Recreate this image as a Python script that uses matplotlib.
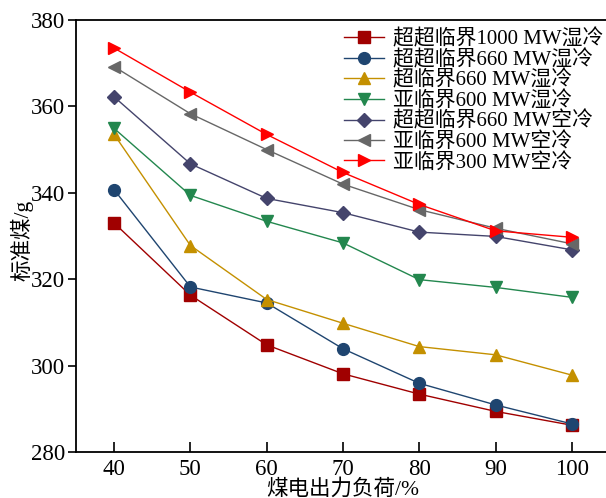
import matplotlib
matplotlib.use('Agg')
import matplotlib.pyplot as plt

plt.rcParams['font.family'] = ['Liberation Serif', 'Noto Sans CJK SC']
plt.rcParams['mathtext.fontset'] = 'stix'

# 负荷 (%)
load = [40, 50, 60, 70, 80, 90, 100]

# 各机组标准煤耗 (g)
usc1000_wet = [333.0, 316.3, 304.8, 298.1, 293.4, 289.4, 286.2]
usc660_wet = [340.7, 318.2, 314.5, 303.9, 295.9, 290.9, 286.5]
sc660_wet = [353.5, 327.8, 315.3, 309.8, 304.4, 302.5, 297.8]
sub600_wet = [354.9, 339.4, 333.4, 328.4, 319.9, 318.1, 315.8]
usc660_air = [362.2, 346.7, 338.7, 335.4, 330.9, 329.9, 326.8]
sub600_air = [369.2, 358.3, 350.0, 342.0, 336.1, 331.8, 328.2]
sub300_air = [373.5, 363.3, 353.5, 344.7, 337.3, 331.2, 329.7]

series = [
    ('超超临界1000 MW湿冷', usc1000_wet, '#A00000', 's'),
    ('超超临界660 MW湿冷', usc660_wet, '#1F4570', 'o'),
    ('超临界660 MW湿冷', sc660_wet, '#C49000', '^'),
    ('亚临界600 MW湿冷', sub600_wet, '#23874E', 'v'),
    ('超超临界660 MW空冷', usc660_air, '#44446C', 'D'),
    ('亚临界600 MW空冷', sub600_air, '#676767', '<'),
    ('亚临界300 MW空冷', sub300_air, '#FF0000', '>'),
]

fig = plt.figure(figsize=(6.06, 4.98), dpi=100)
ax = fig.add_axes([76 / 606, 1 - 452 / 498, 534 / 606, 432 / 498])

for label, vals, color, mk in series:
    ms = 7 if mk == 'D' else 8.5
    ax.plot(load, vals, color=color, marker=mk, markersize=ms, linewidth=1.0,
            label=label)

ax.set_xlim(35, 105)
ax.set_ylim(280, 380)
ax.set_xticks(load)
ax.set_yticks([280, 300, 320, 340, 360, 380])
ax.tick_params(axis='x', direction='in', length=7, width=1.2, labelsize=16.5, pad=5)
ax.tick_params(axis='y', direction='out', length=6, width=1.2, labelsize=16.5, pad=2)
for s in ax.spines.values():
    s.set_linewidth(1.3)

ax.set_xlabel('煤电出力负荷/%', fontsize=15.5, labelpad=-1)
ax.set_ylabel('标准煤/g', fontsize=15.5)
ax.yaxis.set_label_coords(-0.08, 0.49)

ax.legend(loc='upper right', bbox_to_anchor=(603 / 606, 1 - 29 / 498),
          bbox_transform=fig.transFigure, frameon=False, fontsize=15,
          labelspacing=0.02, handlelength=1.9, handletextpad=0.43,
          borderpad=0, borderaxespad=0)

fig.savefig('out.png', dpi=100)
